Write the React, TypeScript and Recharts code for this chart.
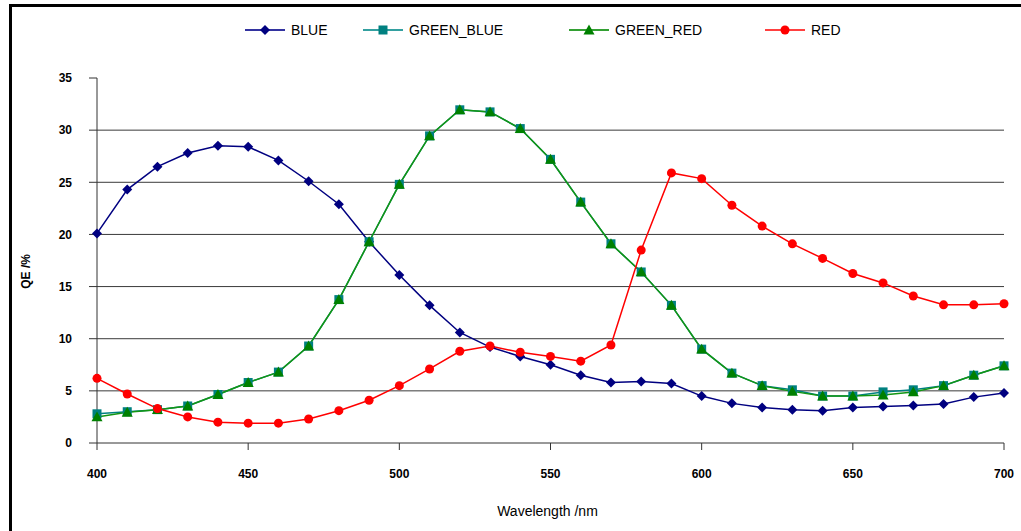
import React from 'react';
import {
  LineChart,
  Line,
  XAxis,
  YAxis,
  CartesianGrid,
  Legend,
} from 'recharts';

const wavelengths = [
  400, 410, 420, 430, 440, 450, 460, 470, 480, 490, 500, 510, 520, 530, 540, 550,
  560, 570, 580, 590, 600, 610, 620, 630, 640, 650, 660, 670, 680, 690, 700,
];

const blue = [
  20.1, 24.3, 26.5, 27.8, 28.5, 28.4, 27.1, 25.1, 22.9, 19.3, 16.1, 13.2, 10.6, 9.2, 8.3, 7.5,
  6.5, 5.8, 5.9, 5.7, 4.5, 3.8, 3.4, 3.2, 3.1, 3.4, 3.5, 3.6, 3.75, 4.4, 4.8,
];

const greenBlue = [
  2.8, 3.0, 3.2, 3.55, 4.65, 5.8, 6.8, 9.3, 13.75, 19.3, 24.8, 29.45, 31.95, 31.75, 30.15, 27.2,
  23.1, 19.1, 16.4, 13.2, 9.0, 6.7, 5.5, 5.1, 4.5, 4.5, 4.9, 5.1, 5.5, 6.5, 7.4,
];

const greenRed = [
  2.5, 2.95, 3.2, 3.55, 4.65, 5.8, 6.8, 9.3, 13.75, 19.3, 24.8, 29.45, 31.95, 31.75, 30.15, 27.2,
  23.1, 19.1, 16.4, 13.2, 9.0, 6.7, 5.5, 4.95, 4.5, 4.5, 4.6, 4.9, 5.5, 6.5, 7.4,
];

const red = [
  6.2, 4.7, 3.3, 2.5, 2.0, 1.9, 1.9, 2.3, 3.1, 4.1, 5.5, 7.1, 8.8, 9.3, 8.7, 8.3,
  7.85, 9.4, 18.5, 25.9, 25.35, 22.8, 20.8, 19.1, 17.7, 16.25, 15.35, 14.1, 13.25, 13.25, 13.35,
];

const xTicks = [400, 450, 500, 550, 600, 650, 700];
const yTicks = [0, 5, 10, 15, 20, 25, 30, 35];

const data = wavelengths.map((w, i) => ({
  wl: w,
  BLUE: blue[i],
  GREEN_BLUE: greenBlue[i],
  GREEN_RED: greenRed[i],
  RED: red[i],
}));

const FONT = 'Arial, "Liberation Sans", Helvetica, sans-serif';

// marker shapes
const Diamond = ({ cx, cy, fill }: any) => {
  if (cx == null || cy == null) return null;
  const r = 5;
  return <path d={`M${cx},${cy - r}L${cx + r},${cy}L${cx},${cy + r}L${cx - r},${cy}Z`} fill={fill} />;
};

const Square = ({ cx, cy, fill }: any) => {
  if (cx == null || cy == null) return null;
  const r = 4.5;
  return <rect x={cx - r} y={cy - r} width={r * 2} height={r * 2} fill={fill} />;
};

const Triangle = ({ cx, cy, fill }: any) => {
  if (cx == null || cy == null) return null;
  const r = 5.5;
  return <path d={`M${cx},${cy - r}L${cx + r},${cy + r * 0.8}L${cx - r},${cy + r * 0.8}Z`} fill={fill} />;
};

const Circle = ({ cx, cy, fill }: any) => {
  if (cx == null || cy == null) return null;
  return <circle cx={cx} cy={cy} r={4.5} fill={fill} />;
};

const legendItems = [
  { name: 'BLUE', line: '#3333a0', color: '#000080', Shape: Diamond, x: 245 },
  { name: 'GREEN_BLUE', line: '#33a0a0', color: '#008080', Shape: Square, x: 363 },
  { name: 'GREEN_RED', line: '#33a033', color: '#008000', Shape: Triangle, x: 569 },
  { name: 'RED', line: '#ff4040', color: '#ff0000', Shape: Circle, x: 765 },
];

const renderLegend = () => (
  <svg width={1021} height={24}>
    {legendItems.map(({ name, line, color, Shape, x }) => (
      <g key={name}>
        <line x1={x} x2={x + 40} y1={12} y2={12} stroke={line} strokeWidth={2} />
        <Shape cx={x + 20} cy={12} fill={color} />
        <text x={x + 46} y={17} fontSize={14} fontFamily={FONT} fill="#000">
          {name}
        </text>
      </g>
    ))}
  </svg>
);

const YLabel = ({ viewBox }: any) => {
  const x = viewBox.x + 6;
  const y = viewBox.y + viewBox.height * 0.53;
  return (
    <text
      x={x}
      y={y}
      transform={`rotate(-90, ${x}, ${y})`}
      textAnchor="middle"
      dominantBaseline="central"
      fontSize={12}
      fontFamily={FONT}
      fontWeight="bold"
      fill="#000"
    >
      QE /%
    </text>
  );
};

export default function App() {
  return (
    <div style={{ position: 'absolute', left: 0, top: 0, width: 1021, height: 531, background: '#fff', overflow: 'hidden' }}>
      <div
        style={{
          position: 'absolute',
          left: 9,
          top: 4,
          width: 1100,
          height: 700,
          borderLeft: '3px solid #000',
          borderTop: '3px solid #000',
        }}
      />
      <LineChart
        width={1021}
        height={531}
        data={data}
        margin={{ top: 50, right: 17, left: 20, bottom: 28 }}
        style={{ position: 'absolute', left: 0, top: 0 }}
      >
        <CartesianGrid vertical={false} stroke="#3a3a3a" strokeWidth={1} horizontalValues={[5, 10, 15, 20, 25, 30]} />
        <XAxis
          dataKey="wl"
          type="number"
          domain={[400, 700]}
          ticks={xTicks}
          stroke="#333"
          tickSize={7}
          tickMargin={19}
          height={60}
          tick={{ fontSize: 12, fontFamily: FONT, fill: '#000', fontWeight: 'bold' }}
          label={{ value: 'Wavelength /nm', position: 'insideBottom', offset: -13, dx: -3, fontSize: 14, fontFamily: FONT, fill: '#000' }}
        />
        <XAxis xAxisId="top" orientation="top" dataKey="wl" type="number" domain={[400, 700]} tick={false} tickLine={false} height={0} stroke="#999" />
        <YAxis
          type="number"
          domain={[0, 35]}
          ticks={yTicks}
          stroke="#333"
          tickSize={8}
          tickMargin={17}
          width={77}
          tick={{ fontSize: 12, fontFamily: FONT, fill: '#000', fontWeight: 'bold' }}
          label={<YLabel />}
        />
        <YAxis yAxisId="right" orientation="right" domain={[0, 35]} tick={false} tickLine={false} width={0} stroke="#999" />
        <Legend verticalAlign="top" align="left" content={renderLegend} wrapperStyle={{ top: 18, left: 0, width: 1021 }} />
        <Line dataKey="BLUE" stroke="#000080" strokeWidth={1.5} dot={<Diamond fill="#000080" />} isAnimationActive={false} />
        <Line dataKey="GREEN_BLUE" stroke="#008080" strokeWidth={1.5} dot={<Square fill="#008080" />} isAnimationActive={false} />
        <Line dataKey="GREEN_RED" stroke="#139613" strokeWidth={1.5} dot={<Triangle fill="#008000" />} isAnimationActive={false} />
        <Line dataKey="RED" stroke="#ff0000" strokeWidth={1.5} dot={<Circle fill="#ff0000" />} isAnimationActive={false} />
      </LineChart>
    </div>
  );
}
